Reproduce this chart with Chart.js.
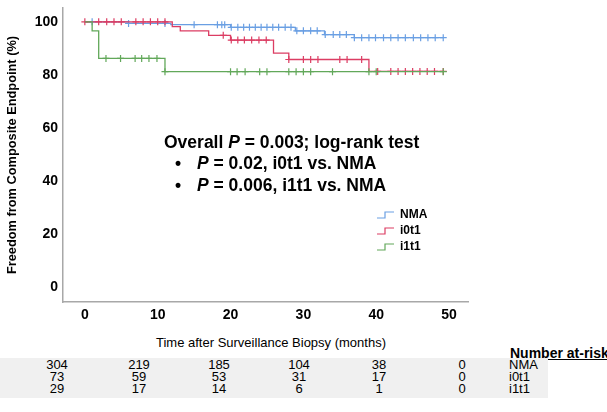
<!DOCTYPE html>
<html>
<head>
<meta charset="utf-8">
<script src="https://cdn.jsdelivr.net/npm/chart.js@4.4.1/dist/chart.umd.min.js"></script>
<style>
  body { margin: 0; width: 607px; height: 412px; overflow: hidden; position: relative; background: #fff;
         font-family: "Liberation Sans", Arial, sans-serif; }
  #plot { position: absolute; left: 0; top: 0; width: 607px; height: 335px; }
  .abs { position: absolute; white-space: nowrap; color: #000; }
  .cell { position: absolute; transform: translateX(-50%); font-size: 13px; line-height: 12px; }
</style>
</head>
<body>
<div id="plot"><canvas id="km" width="607" height="335"></canvas></div>
<div id="risk"></div>
<script>
// axis ticks
const monthTicks = [0, 10, 20, 30, 40, 50];
const pctTicks = [0, 20, 40, 60, 80, 100];
const groups = ["NMA", "i0t1", "i1t1"];
const colors = ["#6a9fe3", "#dc3d63", "#62a85a"];

// step points (time in months, survival %)
const nmaTimes = [0, 6, 11.8, 20, 28.9, 32.9, 37, 49.2];
const nmaSurv = [100, 99.4, 98.9, 97.9, 96.6, 95.2, 94.0, 94.0];
const i0t1Times = [0, 12, 13.1, 17, 20, 25.9, 28, 39, 49.2];
const i0t1Surv = [100, 98.2, 96.6, 94.9, 93.1, 88.2, 85.8, 81.3, 81.3];
const i1t1Times = [0, 1, 1.9, 11, 49.2];
const i1t1Surv = [100, 96.6, 86.2, 81.2, 81.2];

// censored times
const nmaCensor = [1, 6, 11, 15, 18.2, 18.8, 19.2, 20.1, 21, 21.8, 22.6, 23.4, 24.2, 25, 25.8, 26.6, 27.5, 28.3,
  29.1, 30, 31, 31.9, 33, 34.1, 35, 35.9, 37, 38, 39, 39.9, 41, 42, 43, 44, 45.1, 46.1, 47.1, 48.1, 49.2];
const i0t1Censor = [0, 1.9, 3, 4, 5, 7, 8, 9, 10, 11, 19, 20.1, 21, 21.9, 22.9, 23.9, 24.9, 28, 30, 31, 32,
  35, 36, 38, 40.2, 42, 43, 44, 45, 46, 47, 48, 49.2];
const i1t1Censor = [2.9, 4.9, 6.9, 7.8, 8.8, 9.9, 11, 20, 20.9, 22, 24, 25, 28, 29, 30, 31, 34, 39, 40, 49.2];

// number at risk
const nmaRisk = [304, 219, 185, 104, 38, 0];
const i0t1Risk = [73, 59, 53, 31, 17, 0];
const i1t1Risk = [29, 17, 14, 6, 1, 0];

const curves = [
  { times: nmaTimes, surv: nmaSurv, censor: nmaCensor, risk: nmaRisk },
  { times: i0t1Times, surv: i0t1Surv, censor: i0t1Censor, risk: i0t1Risk },
  { times: i1t1Times, surv: i1t1Surv, censor: i1t1Censor, risk: i1t1Risk },
];

function levelAt(times, surv, t) {
  let v = surv[0];
  for (let i = 0; i < times.length; i++) if (times[i] <= t) v = surv[i];
  return v;
}

const datasets = [];
curves.forEach((c, i) => {
  datasets.push({
    type: "line",
    label: groups[i],
    data: c.times.map((t, k) => ({ x: t, y: c.surv[k] })),
    stepped: "before",
    borderColor: colors[i],
    borderWidth: 1.3,
    pointRadius: 0,
    fill: false,
    order: 3 - i,
  });
  datasets.push({
    type: "scatter",
    label: groups[i] + " censored",
    data: c.censor.map(t => ({ x: t, y: levelAt(c.times, c.surv, t) })),
    pointStyle: "cross",
    pointRadius: 3.5,
    borderColor: colors[i],
    borderWidth: 1.2,
    order: 3 - i,
  });
});

function drawRuns(ctx, x, y, runs) {
  for (const r of runs) {
    ctx.font = (r.italic ? "italic " : "") + "bold 17.5px 'Liberation Sans', Arial, sans-serif";
    ctx.fillText(r.text, x, y);
    x += ctx.measureText(r.text).width;
  }
}

const notesPlugin = {
  id: "notes",
  afterDraw(chart) {
    const ctx = chart.ctx;
    ctx.save();
    ctx.fillStyle = "#000";
    ctx.textBaseline = "middle";
    drawRuns(ctx, 164, 143, [{ text: "Overall " }, { text: "P", italic: true }, { text: " = 0.003; log-rank test" }]);
    drawRuns(ctx, 175, 164, [{ text: "•" }]);
    drawRuns(ctx, 197, 164, [{ text: "P", italic: true }, { text: " = 0.02, i0t1 vs. NMA" }]);
    drawRuns(ctx, 175, 186, [{ text: "•" }]);
    drawRuns(ctx, 197, 186, [{ text: "P", italic: true }, { text: " = 0.006, i1t1 vs. NMA" }]);

    // legend with step icons
    ctx.font = "bold 12px 'Liberation Sans', Arial, sans-serif";
    groups.forEach((g, i) => {
      const y = 215 + i * 16;
      ctx.strokeStyle = colors[i];
      ctx.lineWidth = 1.2;
      ctx.beginPath();
      ctx.moveTo(377, y + 3);
      ctx.lineTo(385, y + 3);
      ctx.lineTo(385, y - 3);
      ctx.lineTo(394, y - 3);
      ctx.stroke();
      ctx.fillText(g, 400, y);
    });
    ctx.restore();
  },
};

new Chart(document.getElementById("km"), {
  data: { datasets },
  options: {
    responsive: false,
    animation: false,
    layout: { padding: { left: 0, right: 139, top: 8, bottom: 0 } },
    plugins: { legend: { display: false }, tooltip: { enabled: false } },
    scales: {
      x: {
        type: "linear",
        min: -3,
        max: 52.6,
        grid: { display: false, drawTicks: false },
        border: { color: "#a8a8a8", width: 1.5 },
        afterBuildTicks: s => { s.ticks = monthTicks.map(v => ({ value: v })); },
        afterFit: s => { s.height = 33; s.paddingLeft = 0; s.paddingRight = 0; },
        ticks: { color: "#000", padding: 5, font: { family: "'Liberation Sans', Arial", size: 14, weight: "bold" } },
      },
      y: {
        type: "linear",
        min: -5.6,
        max: 105.2,
        grid: { display: false, drawTicks: false },
        border: { color: "#a8a8a8", width: 1.5 },
        afterBuildTicks: s => { s.ticks = pctTicks.map(v => ({ value: v })); },
        afterFit: s => { s.width = 63; s.paddingTop = 0; s.paddingBottom = 0; },
        ticks: { color: "#000", padding: 5, font: { family: "'Liberation Sans', Arial", size: 14, weight: "bold" } },
        title: {
          display: true,
          text: "Freedom from Composite Endpoint (%)",
          color: "#000",
          padding: { top: 5, bottom: 0 },
          font: { family: "'Liberation Sans', Arial", size: 12.8, weight: "bold" },
        },
      },
    },
  },
  plugins: [notesPlugin],
});

// at-risk table below the plot
const riskBox = document.getElementById("risk");
const colX = [57, 139, 219, 299, 379, 462];
let html = '<div class="abs" style="left:271px;top:335px;transform:translateX(-50%);font-size:13px">Time after Surveillance Biopsy (months)</div>';
html += '<div class="abs" style="left:510px;top:345px;font-size:14px;font-weight:bold;text-decoration:underline">Number at-risk</div>';
html += '<div class="abs" style="left:0;top:358px;width:548px;height:40px;background:#f0f0f0"></div>';
curves.forEach((c, i) => {
  const top = 359 + i * 12;
  c.risk.forEach((n, k) => {
    html += `<div class="cell" style="left:${colX[k]}px;top:${top}px">${n}</div>`;
  });
  html += `<div class="abs" style="left:509px;top:${top}px;font-size:13px;line-height:12px">${groups[i]}</div>`;
});
riskBox.innerHTML = html;
</script>
</body>
</html>
